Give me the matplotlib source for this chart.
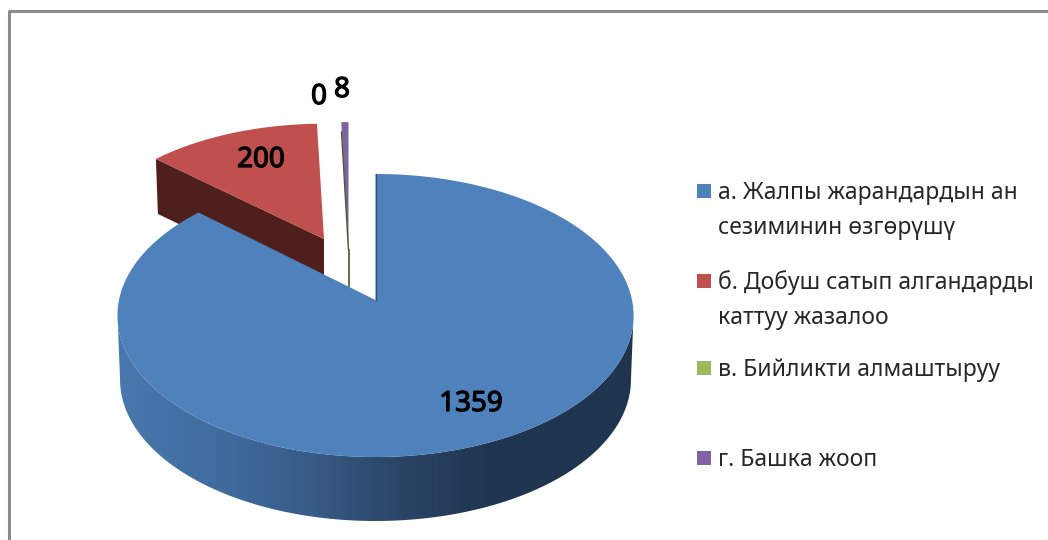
import numpy as np
import matplotlib
matplotlib.use("Agg")
import matplotlib.pyplot as plt
import matplotlib.patheffects as pe
from matplotlib.colors import LinearSegmentedColormap
from matplotlib.patches import Polygon, Rectangle

plt.rcParams["font.family"] = ["Noto Sans", "DejaVu Sans"]

categories = [
    "а. Жалпы жарандардын ан\nсезиминин өзгөрүшү",
    "б. Добуш сатып алгандарды\nкаттуу жазалоо",
    "в. Бийликти алмаштыруу",
    "г. Башка жооп",
]
values = [1359, 200, 0, 8]
colors = ["#4f81bd", "#c0504d", "#9bbb59", "#8064a2"]

# perspective of the pie plane, in pixels
RX, RY, PERSP = 256.5, 139.8, 0.1095
DEPTH = 64

total = sum(values)
edges = np.concatenate([[0], np.cumsum(values)]) / total * 2 * np.pi


def rim(start, end, apex, sx=1.0, sy=1.0, n=200):
    t = np.linspace(start, end, n)
    w = 1 + PERSP * np.cos(t)
    x = apex[0] + sx * RX * np.sin(t) / w
    y = apex[1] - sy * RY * np.cos(t) / w
    return np.column_stack([x, y])


fig = plt.figure(figsize=(10.48, 5.40), dpi=100)
ax = fig.add_axes([0, 0, 1, 1])
ax.set_xlim(0, 1048)
ax.set_ylim(540, 0)
ax.axis("off")

# frame: only left and top are in the picture
ax.plot([8.5, 8.5, 1048], [540, 10.5, 10.5], color="#8c8c8c", lw=2.2, zorder=1)

blue_apex = (375.5, 300)
red_apex = (324, 239)
back_apex = (348.5, 250)

# red slice: cut face then top
r_arc = rim(edges[1], edges[2], red_apex, 0.95, 0.915)
corner = r_arc[0]
ax.add_patch(Polygon([corner, red_apex, (red_apex[0], red_apex[1] + 55), (corner[0] + 2, corner[1] + 55)],
                     fc="#4f1f1d", ec="none", zorder=2))
ax.add_patch(Polygon(np.vstack([[red_apex], r_arc]), fc=colors[1], ec="none", zorder=3))

# purple and the zero-size green slice
p_arc = rim(edges[3], edges[4], back_apex, 0.98, 1.015, n=10)
ax.add_patch(Polygon(np.vstack([[back_apex], p_arc]), fc=colors[3], ec="none", zorder=3))
ax.plot([p_arc[0, 0] + 0.3, back_apex[0]], [p_arc[0, 1] + 10, back_apex[1]], color="#4a5a28", lw=1.0, zorder=3)
ax.plot([back_apex[0], back_apex[0]], [back_apex[1], back_apex[1] + 40], color="#4a5a28", lw=1.2, zorder=3)

# blue side wall with horizontal shading, between the widest points of the rim
top = rim(np.radians(96), np.radians(264), blue_apex)
bottom = top + [0, DEPTH]
bottom[:, 0] = blue_apex[0] + (bottom[:, 0] - blue_apex[0]) * 0.99
wall = Polygon(np.vstack([top, bottom[::-1]]), fc="none", ec="none", zorder=4)
ax.add_patch(wall)
shade = LinearSegmentedColormap.from_list(
    "wall",
    [(0, "#4978ae"), (0.22, "#3f6a9c"), (0.38, "#375a86"), (0.55, "#2a4465"), (0.72, "#1f3550"), (1, "#1f3550")],
)
img = ax.imshow(np.linspace(0, 1, 512)[None, :], cmap=shade, extent=(118, 636, 540, 0),
                aspect="auto", zorder=4)
img.set_clip_path(wall)

# blue top
b_arc = rim(edges[0], edges[1], blue_apex, n=500)
ax.add_patch(Polygon(np.vstack([[blue_apex], b_arc]), fc=colors[0], ec="none", zorder=5))
ax.plot([b_arc[0, 0], blue_apex[0]], [b_arc[0, 1], blue_apex[1]], color="#2f4f78", lw=0.9, zorder=6)

# value labels, the stroke gives them the heavier look of the original
label_xy = [(471, 404), (261, 160), (319, 97), (342, 90)]
for v, (x, y) in zip(values, label_xy):
    ax.text(x, y, str(v), ha="center", va="center", fontsize=20, color="black", zorder=7,
            path_effects=[pe.withStroke(linewidth=0.9, foreground="black")])

# legend
legend_y = [191, 280.5, 368, 457.5]
for name, c, y in zip(categories, colors, legend_y):
    ax.add_patch(Rectangle((697, y - 7), 14, 14, fc=c, ec="none", zorder=7))
    ax.text(718, y - 10, name, ha="left", va="top", fontsize=16.5, color="#262626",
            linespacing=1.62, zorder=7)

fig.savefig("out.png", dpi=100)
